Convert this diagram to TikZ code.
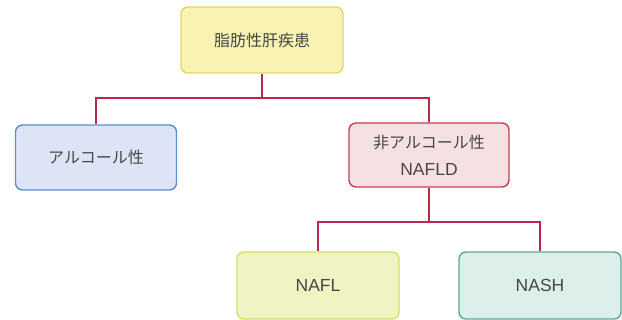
\documentclass[tikz,border=0pt]{standalone}
\usepackage{fontspec}
\setmainfont{Noto Sans CJK JP}
\newfontfamily\latinfont{Liberation Sans}
\begin{document}
\begin{tikzpicture}[x=1pt,y=-1pt,
  box/.style={draw, line width=1.4pt, rounded corners=7pt, inner sep=0pt, align=center, font=\fontsize{16}{27}\selectfont, text=black!72},
  lat/.style={font=\latinfont\fontsize{17.5}{27}\selectfont},
  conn/.style={draw=linkred, line width=2.6pt}]
\definecolor{linkred}{HTML}{B8284C}
\definecolor{topfill}{HTML}{F8F3B2}\definecolor{topdraw}{HTML}{E6D468}
\definecolor{alcfill}{HTML}{DDE4F5}\definecolor{alcdraw}{HTML}{5A8ED2}
\definecolor{nafldfill}{HTML}{F6E1E2}\definecolor{nafldraw}{HTML}{C63A5C}
\definecolor{naflfill}{HTML}{F1F4C2}\definecolor{nafldrawb}{HTML}{D6DF62}
\definecolor{nashfill}{HTML}{DCEFEA}\definecolor{nashdraw}{HTML}{5BA998}
\useasboundingbox (0,0) rectangle (622,320);
\node[box, fill=topfill, draw=topdraw, minimum width=162pt, minimum height=66pt] (top) at (262,40) {脂肪性肝疾患};
\node[box, fill=alcfill, draw=alcdraw, minimum width=161pt, minimum height=65pt] (alc) at (96,157.5) {アルコール性};
\node[box, fill=nafldfill, draw=nafldraw, minimum width=160pt, minimum height=64pt] (nafld) at (429,155) {非アルコール性\\{\latinfont\fontsize{17.5}{27}\selectfont NAFLD}};
\node[box, lat, fill=naflfill, draw=nafldrawb, minimum width=162pt, minimum height=67pt] (nafl) at (318,285.5) {NAFL};
\node[box, lat, fill=nashfill, draw=nashdraw, minimum width=162pt, minimum height=67pt] (nash) at (540,285.5) {NASH};
\coordinate (j1) at (262,98);
\coordinate (j2) at (429,222);
\draw[conn] (top.south) -- (j1);
\draw[conn] (alc.north) |- (j1) -| (nafld.north);
\draw[conn] (nafld.south) -- (j2);
\draw[conn] (nafl.north) |- (j2) -| (nash.north);
\end{tikzpicture}
\end{document}
